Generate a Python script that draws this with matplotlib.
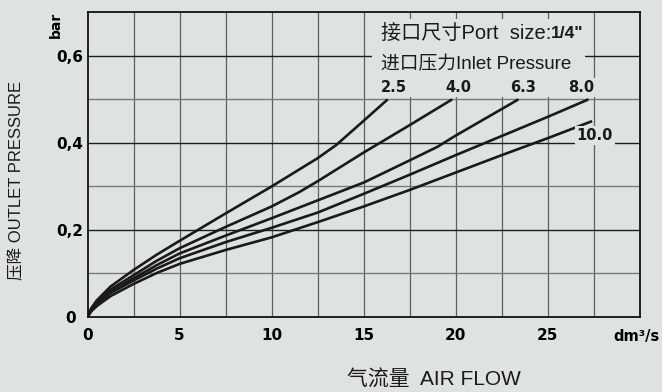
import matplotlib
matplotlib.use("Agg")
import matplotlib.pyplot as plt
from matplotlib.patches import Rectangle

# inlet pressure series (bar)
series_names = ['2.5', '4.0', '6.3', '8.0', '10.0']

flow_25 = [0, 0.2, 0.5, 1.25, 2.5, 3.75, 5, 7.5, 10, 12.5, 13.5, 15, 16.3]
drop_25 = [0, 0.020, 0.038, 0.070, 0.108, 0.143, 0.175, 0.238, 0.300, 0.365, 0.395, 0.451, 0.500]

flow_40 = [0, 0.2, 0.5, 1.25, 2.5, 3.75, 5, 7.5, 10, 11.5, 12.5, 15, 17.5, 19.8]
drop_40 = [0, 0.018, 0.034, 0.063, 0.096, 0.129, 0.158, 0.207, 0.254, 0.287, 0.312, 0.378, 0.441, 0.500]

flow_63 = [0, 0.2, 0.5, 1.25, 2.5, 3.75, 5, 7.5, 10, 12.5, 15, 17.5, 19, 20, 22.5, 23.4]
drop_63 = [0, 0.016, 0.031, 0.058, 0.089, 0.119, 0.146, 0.187, 0.227, 0.268, 0.309, 0.360, 0.391, 0.417, 0.478, 0.500]

flow_80 = [0, 0.2, 0.5, 1.25, 2.5, 3.75, 5, 7.5, 10, 12.5, 15, 17.5, 20, 22.5, 25, 27.2]
drop_80 = [0, 0.015, 0.029, 0.055, 0.084, 0.111, 0.135, 0.172, 0.205, 0.240, 0.283, 0.327, 0.372, 0.416, 0.460, 0.500]

flow_100 = [0, 0.2, 0.5, 1.25, 2.5, 3.75, 5, 7.5, 10, 12.5, 15, 17.5, 20, 22.5, 25, 27.4]
drop_100 = [0, 0.013, 0.025, 0.048, 0.076, 0.101, 0.122, 0.154, 0.183, 0.218, 0.254, 0.292, 0.332, 0.372, 0.411, 0.450]

x_ticks = [0, 5, 10, 15, 20, 25]
y_ticks = [0, 0.2, 0.4, 0.6]
y_tick_labels = ['0', '0,2', '0,4', '0,6']

bg = '#dfe2e2'
fonts = ['Liberation Sans', 'Noto Sans CJK SC', 'DejaVu Sans']

fig = plt.figure(figsize=(6.62, 3.92), dpi=100, facecolor=bg)
ax = fig.add_axes([0.1322, 0.1913, 0.8346, 0.7773], facecolor=bg)
ax.set_xlim(0, 30)
ax.set_ylim(0, 0.7)

# grid
for gx in [2.5 * i for i in range(1, 12)]:
    ax.axvline(gx, color='#5e5e5e', lw=0.9, zorder=1)
for gy in [0.1, 0.3, 0.5]:
    ax.axhline(gy, color='#7a7a7a', lw=1.0, zorder=1)
for gy in [0.2, 0.4, 0.6]:
    ax.axhline(gy, color='#1e1e1e', lw=1.0, zorder=1)

# blank area behind the header text
ax.add_patch(Rectangle((15.45, 0.505), 11.55, 0.18, facecolor=bg,
                       edgecolor='none', zorder=1.5))

flows = [flow_25, flow_40, flow_63, flow_80, flow_100]
drops = [drop_25, drop_40, drop_63, drop_80, drop_100]
for fx, dy in zip(flows, drops):
    ax.plot(fx, dy, color='#1a1a1a', lw=1.9, zorder=2,
            solid_capstyle='butt', solid_joinstyle='round')

# curve labels
label_pos = [(16.62, 0.527), (20.11, 0.527), (23.64, 0.527), (26.83, 0.527), (27.55, 0.418)]
for name, (lx, ly) in zip(series_names, label_pos):
    ax.text(lx, ly, name, ha='center', va='center', fontsize=10.5,
            fontweight='bold', color='#1a1a1a', zorder=3,
            bbox=dict(facecolor=bg, edgecolor='none', pad=1.5))

t1 = ax.text(15.92, 0.652, '接口尺寸Port  size:', ha='left', va='center',
             fontsize=14.5, family=fonts, color='#1a1a1a', zorder=3)
ax.annotate('1/4"', xy=(1, 0.5), xycoords=t1, ha='left', va='center',
            fontsize=12.5, fontweight='bold', family=fonts, color='#1a1a1a', zorder=3)
ax.text(15.92, 0.579, '进口压力Inlet Pressure', ha='left', va='center',
        fontsize=13.5, family=fonts, color='#1a1a1a', zorder=3)

ax.set_xticks(x_ticks)
ax.set_xticklabels([str(v) for v in x_ticks], fontweight='bold', fontsize=11)
ax.set_yticks(y_ticks)
ax.set_yticklabels(y_tick_labels, fontweight='bold', fontsize=11)
ax.tick_params(axis='x', length=0, pad=8)
ax.tick_params(axis='y', length=0, pad=12.5)
for lab in ax.get_yticklabels():
    lab.set_ha('center')

for sp in ax.spines.values():
    sp.set_color('#111111')
    sp.set_linewidth(1.3)

fig.text(56 / 662, 1 - 25 / 392, 'bar', rotation=90, ha='center', va='center',
         fontsize=10, fontweight='bold')
fig.text(637 / 662, 1 - 336 / 392, 'dm³/s', ha='center', va='center',
         fontsize=10.5, fontweight='bold')
fig.text(17 / 662, 1 - 180 / 392, '压降 OUTLET PRESSURE', rotation=90,
         ha='center', va='center', fontsize=12, family=fonts, color='#1a1a1a')
fig.text(434 / 662, 1 - 380 / 392, '气流量  AIR FLOW', ha='center', va='center',
         fontsize=15, family=fonts, color='#1a1a1a')

fig.savefig('out.png', dpi=100, facecolor=bg)
